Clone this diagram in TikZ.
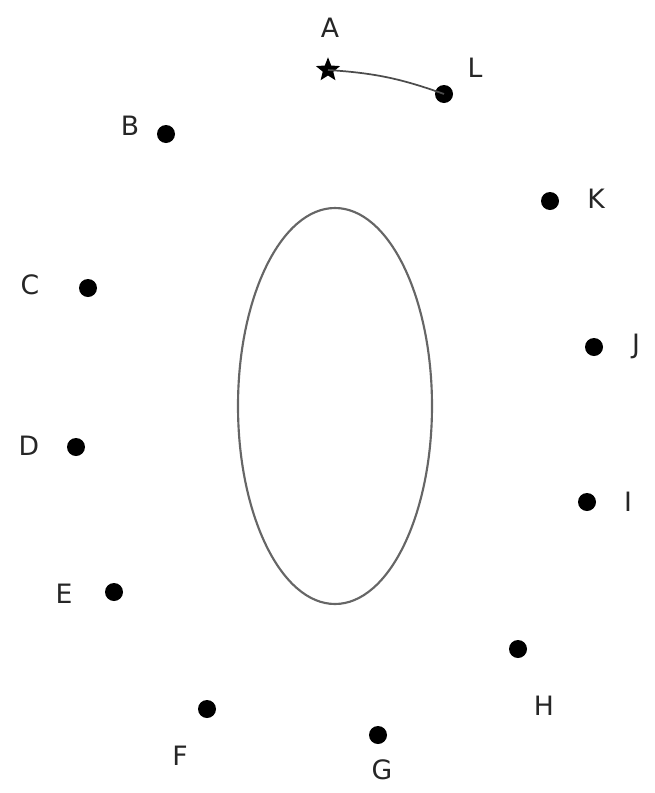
\documentclass[tikz,border=0pt]{standalone}
\usepackage{fontspec}
\setmainfont{DejaVu Sans}
\usetikzlibrary{shapes.geometric}
\begin{document}
\begin{tikzpicture}[x=0.75pt,y=-0.75pt,
  pt/.style={circle,fill=black,inner sep=0pt,minimum size=13.5pt},
  starpt/.style={star,star points=5,star point ratio=2.3,fill=black,inner sep=0pt,minimum size=19pt},
  lab/.style={font=\fontsize{20}{22}\selectfont,text=black!85,inner sep=0pt}]
\useasboundingbox (0,0) rectangle (654,793);
\draw[black!60,line width=1.6pt] (335,406) ellipse [x radius=97,y radius=198];
\node[starpt] (A) at (328,70) {};
\node[pt] (L) at (444,94) {};
\node[pt] (B) at (166,134) {};
\node[pt] (K) at (550,201) {};
\node[pt] (C) at (88,288) {};
\node[pt] (J) at (594,347) {};
\node[pt] (D) at (76,447) {};
\node[pt] (I) at (587,502) {};
\node[pt] (E) at (114,592) {};
\node[pt] (H) at (518,649) {};
\node[pt] (F) at (207,709) {};
\node[pt] (G) at (378,735) {};
\draw[black!70,line width=1.3pt] (A.center) to[bend left=8] (L.center);
\node[lab] (lA) at (330,28) {A};
\node[lab] (lL) at (475,68) {L};
\node[lab] (lB) at (130,126) {B};
\node[lab] (lK) at (596,199) {K};
\node[lab] (lC) at (30,285) {C};
\node[lab] (lJ) at (636,346) {J};
\node[lab] (lD) at (29,446) {D};
\node[lab] (lI) at (628,502) {I};
\node[lab] (lE) at (64,594) {E};
\node[lab] (lH) at (544,706) {H};
\node[lab] (lF) at (180,756) {F};
\node[lab] (lG) at (382,770) {G};
\end{tikzpicture}
\end{document}
